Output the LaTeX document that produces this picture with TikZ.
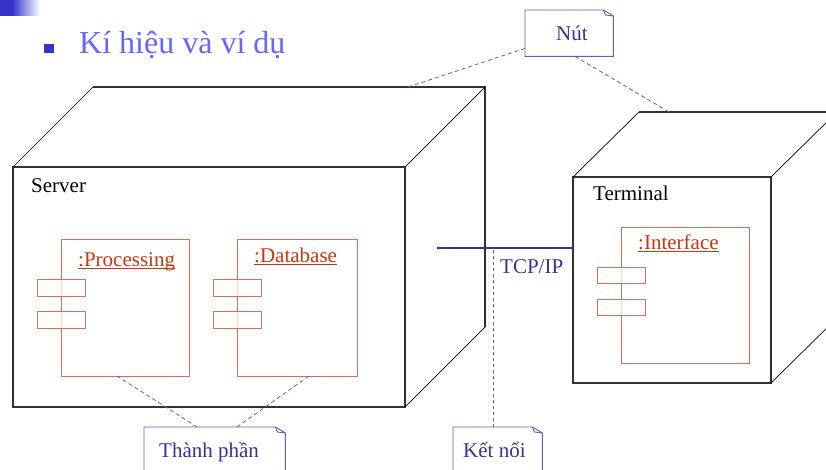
\documentclass[tikz,border=0pt]{standalone}
\usepackage{fontspec}
\setmainfont{Liberation Serif}
\definecolor{cubeline}{RGB}{50,50,50}
\definecolor{comp}{RGB}{222,108,78}
\definecolor{comptext}{RGB}{200,55,15}
\definecolor{notec}{RGB}{95,95,180}
\definecolor{notetext}{RGB}{51,51,153}
\definecolor{linkc}{RGB}{51,51,153}
\definecolor{titlec}{RGB}{102,102,255}
\definecolor{bulletc}{RGB}{51,51,204}
\tikzset{
  cubeedge/.style={draw=cubeline, line width=1.2pt, line join=miter},
  cubediag/.style={draw=black, line width=0.7pt},
  compbox/.style={draw=comp, line width=1.1pt, inner sep=0pt, anchor=north west},
  portbox/.style={draw=comp, line width=1.1pt, fill=white, fill opacity=0.75, inner sep=0pt, anchor=north west, minimum width=48pt, minimum height=17pt},
  notearea/.style={inner sep=0pt, anchor=north west},
  noteedge/.style={draw=notec, line width=0.9pt, fill=white, line join=miter},
  noteline/.style={draw=notec, line width=0.8pt, dash pattern=on 4pt off 3pt},
  dotline/.style={draw=notec, line width=0.8pt, dash pattern=on 3pt off 3pt},
  lbl/.style={font=\fontsize{21}{24}\selectfont, inner sep=0pt, anchor=base west},
  complbl/.style={lbl, text=comptext},
  notelbl/.style={lbl, text=notetext},
}
\begin{document}
\begin{tikzpicture}[x=1pt,y=-1pt]
\useasboundingbox (0,0) rectangle (826,470);
\clip (0,0) rectangle (826,470);
\fill[white] (0,0) rectangle (826,470);

% top-left bar and title
\fill[bulletc] (0,0) rectangle (12,16);
\shade[left color=bulletc, right color=white] (12,0) rectangle (40,16);
\fill[bulletc] (44,44) rectangle (54,53);
\node[lbl, font=\fontsize{32}{36}\selectfont, text=titlec] (title) at (79,54) {Kí hiệu và ví dụ};

% Server node (cube)
\coordinate (sA) at (13,167);
\coordinate (sB) at (405,167);
\coordinate (sC) at (405,407);
\coordinate (sD) at (13,407);
\coordinate (sE) at (93,87);
\coordinate (sF) at (485,87);
\coordinate (sG) at (485,327);
\draw[cubeedge] (sA) rectangle (sC);
\draw[cubeedge] (sE) -- (sF) -- (sG);
\draw[cubediag] (sA) -- (sE) (sB) -- (sF) (sC) -- (sG);
\node[lbl] (server) at (31,193) {Server};

% Terminal node (cube)
\coordinate (tA) at (573,177);
\coordinate (tB) at (771,177);
\coordinate (tC) at (771,383);
\coordinate (tE) at (639,112);
\coordinate (tF) at (837,112);
\coordinate (tG) at (837,318);
\draw[cubeedge] (tA) rectangle (tC);
\draw[cubeedge] (tE) -- (tF) -- (tG);
\draw[cubediag] (tA) -- (tE) (tB) -- (tF) (tC) -- (tG);
\node[lbl] (terminal) at (593,201) {Terminal};

% components
\node[compbox, minimum width=128pt, minimum height=137pt] (proc) at (61,239) {};
\node[portbox] (proc1) at (37,279) {};
\node[portbox] (proc2) at (37,311) {};
\node[complbl] (proctxt) at (78,266) {:Processing};
\draw[comptext, line width=0.9pt] ([yshift=-2pt]proctxt.base west) -- ([yshift=-2pt]proctxt.base east);

\node[compbox, minimum width=120pt, minimum height=137pt] (db) at (237,239) {};
\node[portbox] (db1) at (213,279) {};
\node[portbox] (db2) at (213,311) {};
\node[complbl] (dbtxt) at (254,262) {:Database};
\draw[comptext, line width=0.9pt] ([yshift=-2pt]dbtxt.base west) -- ([yshift=-2pt]dbtxt.base east);

\node[compbox, minimum width=128pt, minimum height=136pt] (intf) at (621,227) {};
\node[portbox, minimum height=16pt] (intf1) at (597,267) {};
\node[portbox, minimum height=16pt] (intf2) at (597,299) {};
\node[complbl] (intftxt) at (638,249) {:Interface};
\draw[comptext, line width=0.9pt] ([yshift=-2.5pt]intftxt.base west) -- ([yshift=-2.5pt]intftxt.base east);

% TCP/IP connection
\coordinate (linkL) at (437,248);
\coordinate (linkR) at (tA |- linkL);
\draw[linkc, line width=2pt] (linkL) -- (linkR);
\node[lbl, text=linkc] (tcp) at (500,273) {TCP/IP};

% notes
\node[notearea, minimum width=88pt, minimum height=46pt] (nut) at (525,10) {};
\node[notearea, minimum width=141pt, minimum height=60pt] (tp) at (144,427) {};
\node[notearea, minimum width=89pt, minimum height=60pt] (kn) at (453,427) {};
\foreach \n in {nut,tp,kn}{
  \draw[noteedge] (\n.north west) -- ([xshift=-10pt]\n.north east) -- ([yshift=-6pt]\n.north east) -- (\n.south east) -- (\n.south west) -- cycle;
  \draw[noteedge, fill=none] ([xshift=-10pt]\n.north east) -- ([xshift=-8pt,yshift=-5pt]\n.north east) -- ([yshift=-6pt]\n.north east);
}
\node[notelbl] (nuttxt) at (556,41) {Nút};
\node[notelbl] (tptxt) at (159,457) {Thành phần};
\node[notelbl] (kntxt) at (463,457) {Kết nối};

% note connectors
\coordinate (srvTop) at (405,88);
\coordinate (termTop) at (669,112);
\coordinate (procBot) at (117,376);
\coordinate (dbBot) at (309,376);
\coordinate (linkPt) at (493,250);
\draw[noteline] ([yshift=8pt]nut.south west) -- (srvTop);
\draw[noteline] ([xshift=50pt]nut.south west) -- (termTop);
\draw[noteline] ([xshift=53pt]tp.north west) -- (procBot);
\draw[noteline] ([xshift=93pt]tp.north west) -- (dbBot);
\draw[dotline] (kn.north west -| linkPt) -- (linkPt);
\end{tikzpicture}
\end{document}
